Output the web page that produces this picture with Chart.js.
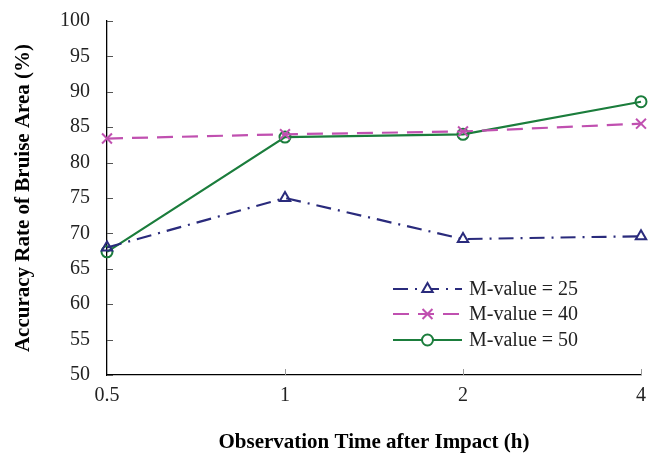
<!DOCTYPE html>
<html>
<head>
<meta charset="utf-8">
<script src="https://cdn.jsdelivr.net/npm/chart.js@4.4.1/dist/chart.umd.min.js"></script>
<style>
html,body{margin:0;padding:0;background:#fff;}
#wrap{width:650px;height:455px;position:relative;}
</style>
</head>
<body>
<div id="wrap"><canvas id="c" width="650" height="455"></canvas></div>
<script>
const categories = ['0.5', '1', '2', '4'];
const seriesNames = ['M-value = 25', 'M-value = 40', 'M-value = 50'];
const m25 = [68.0, 75.0, 69.2, 69.6];
const m40 = [83.4, 84.0, 84.4, 85.5];
const m50 = [67.4, 83.6, 84.0, 88.6];
const yTicks = [50, 55, 60, 65, 70, 75, 80, 85, 90, 95, 100];
const xTitle = 'Observation Time after Impact (h)';
const yTitle = 'Accuracy Rate of Bruise Area (%)';

const serif = "'Liberation Serif','Times New Roman',serif";

const innerTicks = {
  id: 'innerTicks',
  afterDraw(chart) {
    const ctx = chart.ctx, ys = chart.scales.y, xs = chart.scales.x;
    ctx.save();
    ctx.strokeStyle = '#555';
    ctx.lineWidth = 1;
    ys.ticks.forEach(t => {
      const y = Math.round(ys.getPixelForValue(t.value)) + 0.5;
      ctx.beginPath(); ctx.moveTo(ys.right, y); ctx.lineTo(ys.right + 6, y); ctx.stroke();
    });
    ctx.strokeStyle = '#999';
    categories.forEach((c, i) => {
      if (i === 0) return;
      const x = Math.round(xs.getPixelForValue(i)) + 0.5;
      ctx.beginPath(); ctx.moveTo(x, xs.top); ctx.lineTo(x, xs.top - 6); ctx.stroke();
    });
    ctx.restore();
  }
};

const insideLegend = {
  id: 'insideLegend',
  afterDraw(chart) {
    const ctx = chart.ctx, ca = chart.chartArea;
    const x0 = ca.right - 248, x1 = ca.right - 179;
    const rows = [ca.bottom - 86, ca.bottom - 61, ca.bottom - 35];
    chart.data.datasets.forEach((ds, i) => {
      const y = rows[i];
      ctx.save();
      ctx.strokeStyle = ds.borderColor;
      ctx.lineWidth = ds.borderWidth;
      ctx.setLineDash(ds.borderDash || []);
      ctx.beginPath(); ctx.moveTo(x0, y); ctx.lineTo(x1, y); ctx.stroke();
      ctx.setLineDash([]);
      ctx.fillStyle = '#fff';
      ctx.strokeStyle = ds.borderColor;
      ctx.lineWidth = ds.pointBorderWidth;
      Chart.helpers.drawPoint(ctx, {
        pointStyle: ds.pointStyle, radius: ds.pointRadius, rotation: 0,
        borderWidth: ds.pointBorderWidth
      }, (x0 + x1) / 2, y);
      ctx.fillStyle = '#222';
      ctx.font = '20px ' + serif;
      ctx.textBaseline = 'middle';
      ctx.textAlign = 'left';
      ctx.fillText(ds.label, x1 + 7, y + 1);
      ctx.restore();
    });
  }
};

function ds(label, data, color, style, dash, r) {
  return {
    label, data,
    borderColor: color, backgroundColor: '#fff',
    pointBorderColor: color, pointBackgroundColor: 'rgba(255,255,255,0)',
    borderWidth: 2.2, pointBorderWidth: 2, pointRadius: r, pointStyle: style,
    borderDash: dash, tension: 0, fill: false
  };
}

new Chart(document.getElementById('c'), {
  type: 'line',
  data: {
    labels: categories,
    datasets: [
      ds(seriesNames[0], m25, '#2A2B7C', 'triangle', [15, 7, 2, 7], 6),
      ds(seriesNames[1], m40, '#C050B0', 'crossRot', [16, 9], 7),
      ds(seriesNames[2], m50, '#1B7D3C', 'circle', [], 5.5)
    ]
  },
  options: {
    responsive: false,
    animation: false,
    devicePixelRatio: 1,
    layout: { padding: { top: 21, right: 9, left: 0, bottom: 0 } },
    plugins: { legend: { display: false }, tooltip: { enabled: false } },
    scales: {
      x: {
        type: 'category', offset: false,
        grid: { display: false, drawTicks: false },
        border: { display: true, color: '#000', width: 1.3 },
        ticks: { color: '#222', font: { family: serif, size: 20 }, padding: 9, maxRotation: 0 },
        title: { display: true, text: xTitle, color: '#000', font: { family: serif, size: 21, weight: 'bold' }, padding: { top: 22, bottom: 0 } },
        afterFit(s) { s.height = 80; s.paddingLeft = 0; s.paddingRight = 0; }
      },
      y: {
        min: 50, max: 100,
        grid: { display: false, drawTicks: false },
        border: { display: true, color: '#000', width: 1.3 },
        afterBuildTicks(s) { s.ticks = yTicks.map(v => ({ value: v })); },
        ticks: { color: '#222', font: { family: serif, size: 20 }, padding: 17 },
        title: { display: true, text: yTitle, color: '#000', font: { family: serif, size: 21, weight: 'bold' }, padding: { top: 11, bottom: 0 } },
        afterFit(s) { s.width = 107; s.paddingTop = 0; s.paddingBottom = 0; }
      }
    }
  },
  plugins: [innerTicks, insideLegend]
});
</script>
</body>
</html>
